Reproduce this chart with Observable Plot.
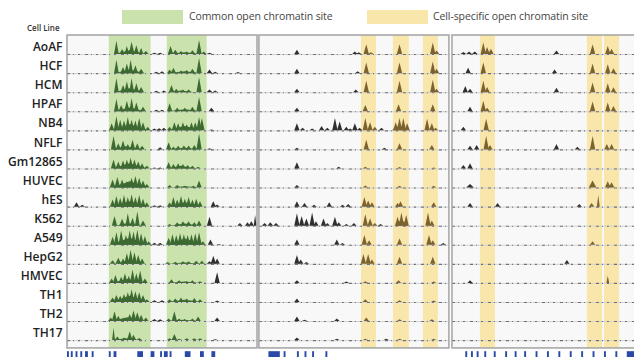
<!DOCTYPE html>
<html><head><meta charset="utf-8">
<script src="https://cdn.jsdelivr.net/npm/d3@7"></script>
<script src="https://cdn.jsdelivr.net/npm/@observablehq/plot@0.6"></script>
<style>
body{margin:0;background:#fff;overflow:hidden;width:634px;height:357px;font-family:"Open Sans",sans-serif}
#legend{position:relative;height:34px}
.sw{position:absolute;top:10px;height:14px;width:61px}
.lt{position:absolute;top:9px;font-size:10.5px;color:#444;white-space:nowrap;letter-spacing:-0.1px}
#cl{position:absolute;left:27px;top:22px;font-size:8px;font-weight:600;color:#333}
#chart svg{display:block;overflow:hidden}
</style></head><body>
<div id="legend">
  <div id="cl">Cell Line</div>
  <div class="sw" style="left:122px;background:#cae3ad"></div>
  <div class="lt" style="left:189px">Common open chromatin site</div>
  <div class="sw" style="left:367px;background:#f8e6ab"></div>
  <div class="lt" style="left:433px">Cell-specific open chromatin site</div>
</div>
<div id="chart"></div>
<script>
const cellLines = ["AoAF","HCF","HCM","HPAF","NB4","NFLF","Gm12865","HUVEC","hES","K562","A549","HepG2","HMVEC","TH1","TH2","TH17"];
const lociStart = [0, 101, 202.6];
const lociLength = 100;
const commonSites = [[0,22,44],[0,52.5,73.5]];
const specificSites = [[1,53.7,61.6],[1,70.5,78.9],[1,86.3,94.2],[2,14.7,22.6],[2,71,79],[2,80,88]];

// peaks per cell line: [position, height %, width]
const locus1Peaks = [
 [[33,22,16],[62,10,18],[26,75,2.5],[29,28],[31.5,45,2.5],[34,70,3],[36.5,50],[39,35,2.5],[41.5,18,3],[46,8,3],[49,8,3],[54.5,45],[57,25,3],[60,18,3],[63,15,3],[66,22,3],[69.5,80],[72,15],[75,8,3]],
 [[33,20,16],[62,10,18],[26,75,2.5],[29.5,35],[31.5,55],[33.5,75,2.5],[36,45],[39,25,3],[47,8,3],[50,10],[54,20],[56,30],[60,15,3],[63,18,3],[66,25,3],[69.5,85],[75,20,3],[78,8],[90,6]],
 [[33,22,16],[60,10,14],[26,80,2.5],[29.5,40],[31.5,60],[34,80,2.5],[36.5,50],[39,30,3],[47,8,3],[51,10],[55,40],[57.5,20],[61,15,3],[64,15,3],[69.5,85],[75,15,3],[78,10]],
 [[33,22,16],[62,12,18],[26,70,2.5],[28.5,35],[31.5,60],[34,75,2.5],[36.5,50],[40,25,3],[47,8,3],[50,8],[54,45],[58,20,3],[62,20,3],[66,25,3],[69.5,80],[76,20,3]],
 [[33,35,20],[62,25,18],[23.5,40],[26,80],[28,60],[30,55],[32,75],[34,60],[36,55],[38,70],[40,45],[42.5,20],[46,10,3],[48.5,12,3],[51,15],[54,20],[56.5,45],[58.5,40],[61,45],[63,35],[65.5,45],[67.5,45],[69.5,75],[71,70],[76,5,3]],
 [[31,18,16],[62,10,18],[24.5,75],[27,35],[29.5,50],[32,30],[34.5,55],[37,35],[39.5,20,3],[49,12],[53.5,40],[56,15,3],[58.5,20],[61.5,22,3],[64,22],[67,25],[69.5,90],[75,6]],
 [[33,30,18],[60,15,14],[24.5,50],[27,40],[29.5,45],[31.5,50],[33.5,60],[35.5,50],[37.5,40],[39.5,30],[42,15,3],[46,6,3],[49,6,3],[53.5,35],[56,25],[58.5,30],[61,25],[63.5,20],[66,15,3],[69,10,3]],
 [[33,35,18],[62,8,16],[24,45,3],[26.5,60,3],[29,45,3],[31.5,35,3],[34,55,3],[36,65,3],[38,55,3],[40,40,3],[42,20,3],[54,15],[58,15,3],[62,10,3],[66.5,10,3],[69.5,40]],
 [[33,30,19],[62,25,17],[5,25],[8,10],[24,40],[26,60],[28,50],[30,65],[32,55],[34,70],[36,55],[38,65],[40,45],[42,25],[46,8,3],[49,8,3],[54,25],[56,55],[58,40],[60,60],[62,45],[64,55],[66,40],[68,45],[70,30],[77,30],[79,12]],
 [[32,15,14],[62,12,16],[25,55],[29,40],[32,70,2.5],[34.5,45],[37,80,2.5],[40,30,3],[54,10],[58,20,3],[61,25,3],[64,25,3],[67,20,3],[69.5,30],[75,50],[91,15],[95,20],[97,25],[99,60,1.5]],
 [[33,40,20],[62,35,19],[24,45],[26,70],[28.5,80],[31,55],[33,80],[35,75],[37,85],[39,65],[41,50],[43,20],[46,12,3],[49,12,3],[53.5,40],[55.5,60],[57.5,55],[59.5,65],[61.5,60],[63.5,55],[65.5,60],[67.5,65],[69.5,70],[71.5,20],[75.5,30],[80,5]],
 [[33,25,14],[62,8,18],[24,20,3],[27,35,3],[29.5,30],[31.5,60],[33.5,80],[35.5,65],[37.5,50],[39.5,30,3],[53,10,3],[57,12,3],[61,15,3],[64,15],[68,18,3],[71,18],[75,15,3],[77,45],[79,30]],
 [[32,22,18],[62,8,16],[23.5,25],[25.5,45],[28.5,35],[30.5,55],[32.5,40],[34.5,75],[36.5,55],[38.5,70],[41,25,3],[55,20],[59,15,3],[63,10,3],[66,15],[70,10],[79,60]],
 [[33,35,19],[62,12,18],[24,25,3],[26,40,3],[28,35,3],[30,45,3],[32,55,3],[34,70,3],[36,60,3],[38,55,3],[40,40,3],[42,15,3],[46,10,3],[50,10,3],[54,15],[57,20,3],[60,25],[63,20,3],[67,22],[70,15],[79,8]],
 [[32,22,18],[61,8,16],[23,20],[25,55],[27,30],[30,20,3],[33,40,3],[35,60,3],[37,50,3],[39,35],[41.5,20],[46,12,3],[49,10,3],[53.5,15],[56.5,55],[59,15],[62,12],[66,15],[69,25],[79,20]],
 [[31,10,14],[24.5,70,1.5],[26.5,20],[30,15],[33,50],[35,30],[38,12],[54,10],[56.5,35],[59,8],[63,10],[67,10],[70,10],[78,5]]
];
const locus2Peaks = [
 [[20,25],[50.5,15],[52.5,10],[56.5,55],[59,10],[74,55],[91.5,65],[93.5,20]],
 [[20,25],[52,10],[56.5,60],[74,60],[91.5,65],[93.5,25]],
 [[20,20],[51,15],[56.5,65],[74,65],[91.5,70],[93.5,20]],
 [[20,20],[56,35],[73.5,40],[91.5,40]],
 [[20,40],[23,15],[28,10],[33,25],[36,15],[40,70],[42.5,50],[46,20],[48,10],[50.5,40],[53,15],[56,70],[58.5,45],[61,20],[64.5,15],[74,30,8],[72,45],[74,70],[76,70],[78,40],[88.5,65],[91,40],[93,15]],
 [[20,10],[56.5,55],[66,10],[74,35],[91,25]],
 [[20,35],[42,10],[56,10],[74,8],[92,5]],
 [[20,15],[56,12],[74,10],[92,10]],
 [[20,30],[24,20],[29,10],[37,25],[44,10],[47,15],[55.5,55],[57.5,35],[59.5,25],[73,20],[74.5,30],[92,25]],
 [[3,15,3],[6,20,3],[9,15,3],[20,70],[22.5,55],[25,40],[28,75],[30,25],[34,40],[36,15],[40,50],[42,20],[46,10],[50,15],[56,65],[58.5,40],[61,15],[64,10],[75,35,7],[73,50],[75,75],[77.5,60],[89,75],[91,30]],
 [[20,30],[41,30],[44,10],[55.5,55],[58,25],[74,35],[89.5,55],[91.5,25],[97,10]],
 [[20,50],[22,25],[25,10],[55,55],[57.5,55],[59.5,25],[74,40],[91.5,40]],
 [[20,15],[46,8],[56,10],[73.5,15],[92,8]],
 [[20,20],[56,15],[74,10],[92,8]],
 [[20,25],[24,8],[41,15],[56.5,20],[74,10],[91,10]],
 [[20,15],[41,8],[56,8],[67,8],[74,8],[92,8]]
];
const locus3Peaks = [
 [[6,12,3],[9,15,3],[12,15,3],[16.5,65],[18.5,40],[20.5,30],[55,20],[74,55],[82,45],[84,30]],
 [[8.5,30],[16.5,60],[54,20],[74,55],[82,50],[85,28]],
 [[7,35],[9.5,20],[16.5,65],[18.5,30],[55,25],[74,55],[82,50],[85,28]],
 [[9.5,25],[16.5,60],[18.5,20],[74,55],[82,50],[85,30]],
 [[6,20],[18,65]],
 [[9.5,20],[13,25],[18,75],[20,25],[55,30],[66,15],[74,75],[81.5,30],[84,30]],
 [[6,20],[9.5,30]],
 [[9.5,20,4],[74,40,4],[82,35,3],[84,30,3]],
 [[9.5,20],[24,20],[67,15],[73.5,20],[77,65,1.5]],
 [],
 [[74,20]],
 [[60.5,22]],
 [[9.5,15],[82,40,1.5]],
 [],[],[]
];
const geneFeatures = [
 [0,0,1],[0,2,3],[0,4.5,5.5],[0,7,8],[0,9.5,11],[0,13,14],[0,22,23],[0,24.5,26],[0,37,40],[0,44,46],[0,49,50],[0,51,53],[0,54,55],[0,62,65],[0,70,72],[0,76,78],
 [1,5,11],[1,13,14],[1,20,21],[1,24,25],[1,28,29],[1,35,36],
 [2,7,8],[2,10,11],[2,13,14],[2,17,18],[2,22,23],[2,28,29],[2,33,34],[2,38,39],[2,44,45],[2,50,51],[2,56,57],[2,62,63],[2,68,69],[2,74,75],[2,80,81],[2,86,87],[2,92,96]
];

const loci = [locus1Peaks, locus2Peaks, locus3Peaks];
const inSite = (sites, l, p) => sites.some(([sl, a, b]) => sl === l && p >= a && p <= b);
const colorOf = (l, p) => inSite(commonSites, l, p) ? "#3d6a32" : inSite(specificSites, l, p) ? "#7b6230" : "#2f2f2f";

const pts = [];
let id = 0;
loci.forEach((rows, l) => rows.forEach((peaks, r) => peaks.forEach(([p, h, w = 2.8]) => {
  const base = r + 1, top = base - h / 100 * 0.93, c = colorOf(l, p);
  const g = lociStart[l];
  pts.push({id, x: g + p - w / 2, base, top: base, c});
  pts.push({id, x: g + p, base, top, c});
  pts.push({id, x: g + p + w / 2, base, top: base, c});
  id++;
})));

const tracks = [];
cellLines.forEach((name, r) => lociStart.forEach(s => tracks.push({r: r + 1, s, e: s + lociLength})));
const panels = lociStart.map(s => ({s, e: s + lociLength}));
const bottom = 16.41;

const plot = Plot.plot({
  width: 634, height: 323,
  marginLeft: 67, marginRight: 0, marginTop: 1, marginBottom: 0,
  x: {domain: [0, 298.4], axis: null},
  y: {domain: [16.885, 0], axis: null},
  style: {fontFamily: "Open Sans, sans-serif", background: "#fff"},
  marks: [
    Plot.rect(panels, {x1: "s", x2: "e", y1: 0, y2: bottom, fill: "#f8f8f8"}),
    Plot.rect(commonSites, {x1: d => lociStart[d[0]] + d[1], x2: d => lociStart[d[0]] + d[2], y1: 0, y2: bottom, fill: "#cae3ad"}),
    Plot.rect(specificSites, {x1: d => lociStart[d[0]] + d[1], x2: d => lociStart[d[0]] + d[2], y1: 0, y2: bottom, fill: "#f8e6ab"}),
    Plot.ruleY(tracks, {y: "r", x1: "s", x2: "e", stroke: "#d2d2d2", strokeWidth: 1}),
    Plot.ruleY(tracks, {y: "r", x1: "s", x2: "e", stroke: "#444", strokeWidth: 1.1, strokeDasharray: "3,3,1,4,2,5", strokeOpacity: 0.7}),
    Plot.area(pts, {x1: "x", y1: "base", y2: "top", z: "id", fill: "c", curve: "linear"}),
    Plot.rect(panels, {x1: "s", x2: "e", y1: 0, y2: bottom, fill: "none", stroke: "#a3a3a3", strokeWidth: 1.5}),
    Plot.rect(geneFeatures, {x1: d => lociStart[d[0]] + d[1], x2: d => lociStart[d[0]] + d[2], y1: 16.58, y2: 16.885, fill: "#2b4aa8"}),
    Plot.text(cellLines, {y: (d, i) => i + 0.62, text: d => d, frameAnchor: "left", dx: -5, textAnchor: "end", fontSize: 12, fontWeight: 600, fill: "#222"})
  ]
});
document.getElementById("chart").appendChild(plot);
</script>
</body></html>
